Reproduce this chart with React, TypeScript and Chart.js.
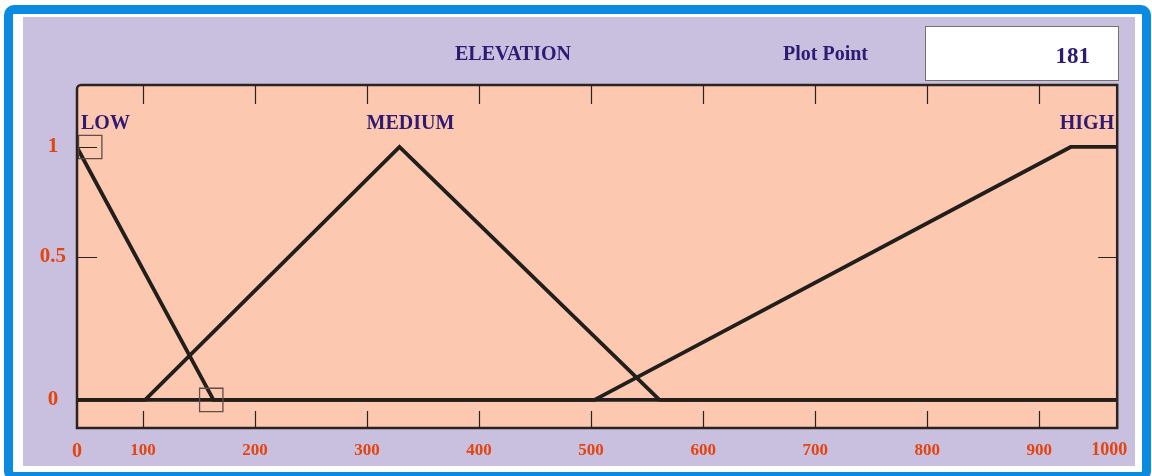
import React, { useEffect, useRef } from 'react';
import { Chart, registerables } from 'chart.js';

Chart.register(...registerables);

// ---- data ----
const categories = ['LOW', 'MEDIUM', 'HIGH'];
const lowX = [41, 163, 970];
const lowY = [1, 0, 0];
const mediumX = [41, 102, 329, 561, 970];
const mediumY = [0, 0, 1, 0, 0];
const highX = [41, 503, 928, 970];
const highY = [0, 0, 1, 1];
const markerX = [53, 161];
const markerY = [1, 0];
const xTickValues = [100, 200, 300, 400, 500, 600, 700, 800, 900];
const xTickLabels = ['0', '100', '200', '300', '400', '500', '600', '700', '800', '900', '1000'];
const yTickLabels = ['0', '0.5', '1'];
const titleText = 'ELEVATION';
const plotPointLabel = 'Plot Point';
const plotPointValue = '181';

const X_MIN = 41.2;
const X_MAX = 969.5;
const Y_MIN = -0.111;
const Y_MAX = 1.245;

const SERIF = '"Liberation Serif", "Times New Roman", serif';
const PURPLE = '#2e1a72';
const ORANGE = '#e4440e';
const LINE = '#221e1b';
const PEACH = '#fdc8b0';
const LAVENDER = '#c9bfdf';
const BLUE = '#0a8ae0';

const toPts = (xs: number[], ys: number[]) => xs.map((x, i) => ({ x, y: ys[i] }));

const framePlugin = {
  id: 'frame',
  beforeDraw(chart: any) {
    const { ctx, chartArea: a } = chart;
    ctx.save();
    ctx.fillStyle = PEACH;
    ctx.fillRect(a.left, a.top, a.right - a.left, a.bottom - a.top);
    ctx.restore();
  },
  beforeDatasetsDraw(chart: any) {
    const { ctx, chartArea: a, scales } = chart;
    const xs = scales.x;
    const ys = scales.y;
    ctx.save();
    ctx.strokeStyle = '#2a2420';
    ctx.lineWidth = 1.2;
    ctx.beginPath();
    xs.ticks.forEach((t: any, i: number) => {
      if (i === 0 || i === xs.ticks.length - 1) return;
      const px = Math.round(xs.getPixelForValue(t.value)) + 0.5;
      ctx.moveTo(px, a.top);
      ctx.lineTo(px, a.top + 19);
      ctx.moveTo(px, a.bottom);
      ctx.lineTo(px, a.bottom - 17);
    });
    ys.ticks.forEach((t: any) => {
      const py = Math.round(ys.getPixelForValue(t.value)) + 0.5;
      ctx.moveTo(a.left, py);
      ctx.lineTo(a.left + 20, py);
      ctx.moveTo(a.right, py);
      ctx.lineTo(a.right - 19, py);
    });
    ctx.stroke();
    ctx.restore();
  },
  afterDraw(chart: any) {
    const { ctx, chartArea: a, scales } = chart;
    ctx.save();
    ctx.strokeStyle = '#2a2420';
    ctx.lineWidth = 2.5;
    ctx.beginPath();
    if (ctx.roundRect) {
      ctx.roundRect(a.left, a.top, a.right - a.left, a.bottom - a.top, [4, 0, 0, 0]);
    } else {
      ctx.rect(a.left, a.top, a.right - a.left, a.bottom - a.top);
    }
    ctx.stroke();

    // category labels over each membership peak
    ctx.fillStyle = PURPLE;
    ctx.font = `bold 20px ${SERIF}`;
    ctx.textBaseline = 'middle';
    const py = scales.y.getPixelForValue(1) - 23;
    for (let i = 0; i < categories.length; i++) {
      const data = chart.data.datasets[i].data as { x: number; y: number }[];
      const peak = data.find((p) => p.y === 1)!;
      const px = scales.x.getPixelForValue(peak.x);
      const last = data[data.length - 1];
      if (px <= a.left + 1) {
        ctx.textAlign = 'left';
        ctx.fillText(categories[i], a.left + 4, py);
      } else if (last.y === 1) {
        ctx.textAlign = 'right';
        ctx.fillText(categories[i], a.right - 3, py);
      } else {
        ctx.textAlign = 'center';
        ctx.fillText(categories[i], px + 11, py);
      }
    }
    ctx.restore();
  },
};

export default function App() {
  const canvasRef = useRef<HTMLCanvasElement | null>(null);

  useEffect(() => {
    const canvas = canvasRef.current;
    if (!canvas) return;
    const lineDs = (label: string, xs: number[], ys: number[]) => ({
      label,
      data: toPts(xs, ys),
      showLine: true,
      borderColor: LINE,
      borderWidth: 3.8,
      pointRadius: 0,
      tension: 0,
      order: 2,
    });
    const chart = new Chart(canvas, {
      type: 'scatter',
      data: {
        datasets: [
          lineDs(categories[0], lowX, lowY),
          lineDs(categories[1], mediumX, mediumY),
          lineDs(categories[2], highX, highY),
          {
            label: 'Plot point',
            data: toPts(markerX, markerY),
            showLine: false,
            pointStyle: 'rect',
            pointRadius: 16.5,
            pointBorderColor: '#5e4d48',
            pointBorderWidth: 1.3,
            pointBackgroundColor: 'rgba(0,0,0,0)',
            order: 1,
          } as any,
        ],
      },
      options: {
        animation: false,
        responsive: false,
        layout: { padding: { left: 0, top: 68, right: 16, bottom: 0 } },
        plugins: { legend: { display: false }, tooltip: { enabled: false } },
        events: [],
        scales: {
          x: {
            type: 'linear',
            position: 'bottom',
            min: X_MIN,
            max: X_MAX,
            grid: { display: false, drawTicks: false },
            border: { display: false },
            afterBuildTicks: (s: any) => {
              s.ticks = [
                { value: s.min },
                ...xTickValues.map((v) => ({ value: v })),
                { value: s.max - 7 },
              ];
            },
            afterFit: (s: any) => {
              s.height = 38;
              s.paddingLeft = 0;
              s.paddingRight = 0;
            },
            ticks: {
              autoSkip: false,
              maxRotation: 0,
              minRotation: 0,
              padding: 12,
              color: ORANGE,
              font: (c: any) => ({
                family: SERIF,
                weight: 'bold',
                size: c.index === 0 ? 20 : c.index === xTickLabels.length - 1 ? 18 : 17,
              }),
              callback: (_v: any, i: number) => xTickLabels[i],
            },
          },
          y: {
            type: 'linear',
            position: 'left',
            min: Y_MIN,
            max: Y_MAX,
            grid: { display: false, drawTicks: false },
            border: { display: false },
            afterBuildTicks: (s: any) => {
              s.ticks = [{ value: 0 }, { value: (s.min + s.max) / 2 }, { value: 1 }];
            },
            afterFit: (s: any) => {
              s.width = 54;
              s.paddingTop = 0;
              s.paddingBottom = 0;
            },
            ticks: {
              crossAlign: 'center',
              padding: 11,
              color: ORANGE,
              font: { family: SERIF, weight: 'bold', size: 21 },
              callback: (_v: any, i: number) => yTickLabels[i],
            },
          },
        },
      } as any,
      plugins: [framePlugin],
    });
    return () => chart.destroy();
  }, []);

  const text: React.CSSProperties = {
    position: 'absolute',
    fontFamily: SERIF,
    fontWeight: 'bold',
    color: PURPLE,
    whiteSpace: 'nowrap',
  };

  return (
    <div style={{ position: 'fixed', left: 0, top: 0, width: 1152, height: 476, background: '#fff', overflow: 'hidden' }}>
      <div
        style={{
          position: 'absolute',
          left: 4,
          top: 5,
          width: 1147,
          height: 476,
          border: `9px solid ${BLUE}`,
          borderRadius: 10,
          boxSizing: 'border-box',
        }}
      />
      <div style={{ position: 'absolute', left: 23, top: 17, width: 1112, height: 449, background: LAVENDER }}>
        <canvas ref={canvasRef} width={1112} height={449} style={{ display: 'block' }} />
      </div>
      <div style={{ ...text, left: 455, top: 43, fontSize: 20, lineHeight: '20px' }}>{titleText}</div>
      <div style={{ ...text, left: 783, top: 43, fontSize: 20, lineHeight: '20px' }}>{plotPointLabel}</div>
      <div
        style={{
          position: 'absolute',
          left: 925,
          top: 26,
          width: 194,
          height: 55,
          background: '#fff',
          border: '1px solid #77706f',
          boxSizing: 'border-box',
        }}
      />
      <div style={{ ...text, left: 925, width: 165, textAlign: 'right', top: 44, fontSize: 23, lineHeight: '23px' }}>
        {plotPointValue}
      </div>
    </div>
  );
}
